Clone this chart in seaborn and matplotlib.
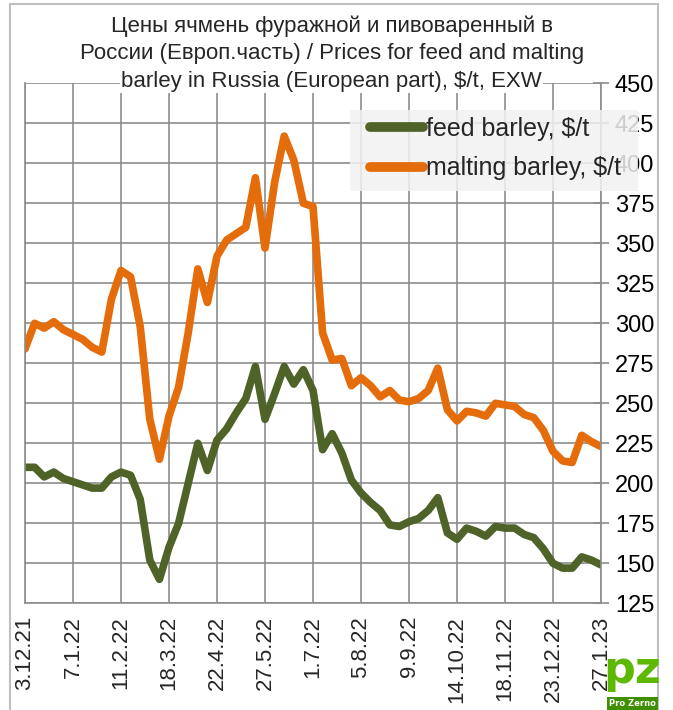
import matplotlib
matplotlib.use("Agg")
import matplotlib.pyplot as plt
from matplotlib import font_manager
from matplotlib.patches import Rectangle
import numpy as np
import pandas as pd
import seaborn as sns

# weekly prices, 3.12.21 .. 27.1.23
feed_barley = [210, 210, 204, 207, 203, 201, 199, 197, 197, 204, 207, 205, 190, 152, 140, 160,
               175, 200, 225, 208, 227, 234, 244, 253, 273, 240, 256, 273, 262, 271, 258, 221,
               231, 219, 202, 194, 188, 183, 174, 173, 176, 178, 183, 191, 169, 165, 172, 170,
               167, 173, 172, 172, 168, 166, 159, 150, 147, 147, 154, 152, 149]
malting_barley = [284, 300, 297, 301, 296, 293, 290, 285, 282, 315, 333, 329, 298, 240, 215, 242,
                  260, 294, 334, 313, 342, 352, 356, 360, 391, 347, 388, 417, 402, 375, 373, 294,
                  277, 278, 261, 266, 261, 254, 258, 252, 251, 253, 258, 272, 246, 239, 245, 244,
                  242, 250, 249, 248, 243, 241, 233, 220, 214, 213, 230, 226, 223]
tick_labels = ['3.12.21', '7.1.22', '11.2.22', '18.3.22', '22.4.22', '27.5.22', '1.7.22',
               '5.8.22', '9.9.22', '14.10.22', '18.11.22', '23.12.22', '27.1.23']
series_names = ['feed barley, $/t', 'malting barley, $/t']
colors = ['#4F6228', '#E46C0A']
title_lines = ['Цены ячмень фуражной и пивоваренный в',
               'России (Европ.часть) / Prices for feed and malting',
               'barley in Russia (European part), $/t, EXW']

week = np.arange(len(feed_barley))
df = pd.DataFrame({
    'week': np.concatenate([week, week]),
    'price': feed_barley + malting_barley,
    'series': [series_names[0]] * len(week) + [series_names[1]] * len(week),
})

sns.set_style("white")
names = {f.name for f in font_manager.fontManager.ttflist}
narrow = 'Liberation Sans Narrow' if 'Liberation Sans Narrow' in names else 'Liberation Sans'
plt.rcParams['font.family'] = [narrow, 'DejaVu Sans']

W, H = 673, 710
fig = plt.figure(figsize=(W / 100, H / 100), dpi=100)
ax = fig.add_axes([25 / W, 1 - 603.3 / H, 576 / W, 520 / H])

sns.lineplot(data=df, x='week', y='price', hue='series', palette=colors,
             linewidth=5.5, ax=ax, legend=False)

grid_c = '#8c8c8c'
ax.set_xlim(0, len(week) - 1)
ax.set_ylim(125, 450)
ax.set_yticks(np.arange(125, 451, 25))
ax.set_xticks(np.arange(0, len(week), 5))
ax.set_xticklabels(tick_labels, rotation=90, fontsize=16)
ax.yaxis.tick_right()
ax.tick_params(axis='y', labelsize=17, direction='inout', length=12, width=1.2,
               color=grid_c, pad=4, labelcolor='black')
ax.tick_params(axis='x', direction='inout', length=12, width=1.2, color=grid_c, pad=3)
ax.grid(True, color=grid_c, linewidth=1.2)
ax.set_xlabel('')
ax.set_ylabel('')
for side in ['left', 'bottom', 'right']:
    ax.spines[side].set_color(grid_c)
    ax.spines[side].set_linewidth(1.2)
ax.spines['top'].set_visible(False)

# legend box (semi-transparent, lies over the 425/400 labels)
ax.add_patch(Rectangle((350 / W, 1 - 191 / H), 288 / W, 81 / H,
                       transform=fig.transFigure, facecolor='#f2f2f2',
                       edgecolor='none', alpha=0.85, zorder=9, clip_on=False))
handles = [plt.Line2D([], [], color=c, linewidth=7) for c in colors]
leg = ax.legend(handles, series_names, loc='upper left',
                bbox_to_anchor=(370 / W, 1 - 117 / H), bbox_transform=fig.transFigure,
                fontsize=18, frameon=False, handlelength=2.1, borderpad=0,
                labelspacing=0.62, handletextpad=0.12, borderaxespad=0)
leg.set_zorder(10)

for k, (line, base) in enumerate(zip(title_lines, [32, 59.5, 87])):
    fig.text(0.493, 1 - base / H, line, ha='center', va='baseline', fontsize=16,
             bbox=dict(facecolor='white', edgecolor='none', pad=1) if k == 2 else None)

# outer chart border
fig.patches.append(Rectangle((10 / W, -0.02), 648 / W, 1.02 - 4 / H,
                             transform=fig.transFigure, fill=False,
                             edgecolor='#bfbfbf', linewidth=1.5))

# logo
fig.text(0.94, 0.025, 'pz', color='#5cb800', fontsize=32, weight='bold',
         ha='center', va='bottom', family='DejaVu Sans')
fig.text(0.94, 0.003, 'Pro Zerno', color='white', fontsize=6, weight='bold',
         ha='center', va='bottom', family='DejaVu Sans',
         bbox=dict(facecolor='#3f8f00', edgecolor='none', pad=1.5))

fig.savefig('out.png', dpi=100)
